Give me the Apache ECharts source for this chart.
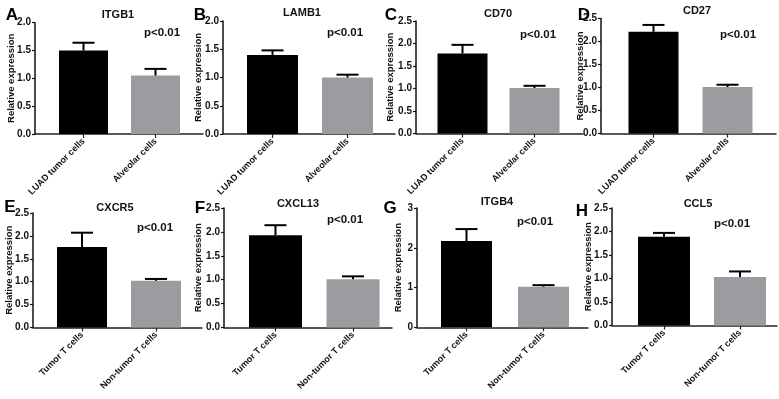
<!DOCTYPE html>
<html>
<head>
<meta charset="utf-8">
<script src="https://cdn.jsdelivr.net/npm/echarts@6/dist/echarts.min.js"></script>
<style>
  html, body { margin: 0; padding: 0; background: #fff; }
  #main { width: 779px; height: 399px; }
</style>
</head>
<body>
<div id="main"></div>
<script>
// data
const letters = ['A', 'B', 'C', 'D', 'E', 'F', 'G', 'H'];
const genes = ['ITGB1', 'LAMB1', 'CD70', 'CD27', 'CXCR5', 'CXCL13', 'ITGB4', 'CCL5'];
const groupsTop = ['LUAD tumor cells', 'Alveolar cells'];
const groupsBottom = ['Tumor T cells', 'Non-tumor T cells'];
const tumorMean = [1.50, 1.40, 1.78, 2.21, 1.76, 1.93, 2.17, 1.89];
const tumorSem = [0.14, 0.08, 0.19, 0.15, 0.31, 0.21, 0.30, 0.08];
const normalMean = [1.05, 1.00, 1.01, 1.01, 1.02, 1.01, 1.02, 1.03];
const normalSem = [0.12, 0.05, 0.05, 0.05, 0.04, 0.06, 0.04, 0.12];
const yMax = [2.0, 2.0, 2.5, 2.5, 2.5, 2.5, 3, 2.5];
const yStep = [0.5, 0.5, 0.5, 0.5, 0.5, 0.5, 1, 0.5];
const yName = 'Relative expression';
const pLabel = 'p<0.01';

// panel geometry (pixels)
const layout = [
  { left: 35, right: 203, top: 22.7, bottom: 134, c1: 83.5, c2: 155.5, bw: 49, t: [118, 15], p: [162, 33], l: [12, 15.5], n: 11 },
  { left: 223, right: 395, top: 21, bottom: 134, c1: 272.5, c2: 347.5, bw: 51, t: [302, 13], p: [345, 33], l: [200, 15.5], n: 198 },
  { left: 416, right: 583, top: 21, bottom: 133.5, c1: 462.5, c2: 534.5, bw: 50, t: [498, 14], p: [538, 35], l: [391, 15.5], n: 390 },
  { left: 601, right: 776, top: 18.5, bottom: 133.5, c1: 653.5, c2: 727.5, bw: 50, t: [697, 11], p: [738, 35], l: [584, 15.5], n: 580 },
  { left: 33, right: 202, top: 213, bottom: 327.5, c1: 82, c2: 156, bw: 50, t: [115, 208], p: [155, 228], l: [10, 207], n: 9 },
  { left: 224, right: 392, top: 208, bottom: 327.5, c1: 275.5, c2: 353, bw: 53, t: [298, 204], p: [345, 220], l: [200, 208], n: 198 },
  { left: 417, right: 588, top: 208, bottom: 327.3, c1: 466.5, c2: 543.5, bw: 51, t: [497, 202], p: [535, 222], l: [390, 208], n: 398 },
  { left: 612, right: 777, top: 208, bottom: 325.5, c1: 664, c2: 740, bw: 52, t: [698, 204], p: [732, 224], l: [582, 211], n: 588 }
];

const FONT = '"Liberation Sans", Arial, sans-serif';
const grids = [], xAxes = [], yAxes = [], series = [], texts = [];

layout.forEach(function (L, i) {
  const s = L.c2 - L.c1;
  const xmin = 1 - (L.c1 - L.left) / s;
  const xmax = 2 + (L.right - L.c2) / s;
  const groups = i < 4 ? groupsTop : groupsBottom;

  grids.push({ left: L.left, top: L.top, width: L.right - L.left, height: L.bottom - L.top });

  xAxes.push({
    gridIndex: i, type: 'value', min: xmin, max: xmax,
    splitLine: { show: false },
    axisLine: { lineStyle: { color: '#222', width: 1.5 } },
    axisTick: { customValues: [1, 2], length: 4, lineStyle: { color: '#222', width: 1.2 } },
    axisLabel: {
      customValues: [1, 2], rotate: 45, margin: 6,
      formatter: function (v) { return groups[Math.round(v) - 1]; },
      fontFamily: FONT, fontWeight: 'bold', fontSize: 9, color: '#111'
    }
  });

  yAxes.push({
    gridIndex: i, type: 'value', min: 0, max: yMax[i], interval: yStep[i],
    splitLine: { show: false },
    axisLine: { show: true, lineStyle: { color: '#111', width: 1.5 } },
    axisTick: { show: true, length: 3, lineStyle: { color: '#111', width: 1.2 } },
    axisLabel: {
      margin: 4,
      formatter: function (v) { return yStep[i] < 1 ? v.toFixed(1) : String(v); },
      fontFamily: FONT, fontWeight: 'bold', fontSize: 10, color: '#111'
    }
  });

  series.push({
    type: 'bar', xAxisIndex: i, yAxisIndex: i, barWidth: L.bw,
    data: [
      { value: [1, tumorMean[i]], itemStyle: { color: '#000' } },
      { value: [2, normalMean[i]], itemStyle: { color: '#9c9ca0' } }
    ]
  });

  series.push({
    type: 'custom', xAxisIndex: i, yAxisIndex: i, z: 5,
    data: [
      [1, tumorMean[i], tumorMean[i] + tumorSem[i]],
      [2, normalMean[i], normalMean[i] + normalSem[i]]
    ],
    renderItem: function (params, api) {
      const b = api.coord([api.value(0), api.value(1)]);
      const t = api.coord([api.value(0), api.value(2)]);
      const st = { stroke: '#000', lineWidth: 2 };
      return {
        type: 'group',
        children: [
          { type: 'line', shape: { x1: b[0], y1: b[1], x2: t[0], y2: t[1] }, style: st },
          { type: 'line', shape: { x1: t[0] - 11, y1: t[1], x2: t[0] + 11, y2: t[1] }, style: st }
        ]
      };
    }
  });

  texts.push({ type: 'text', x: L.n, y: (L.top + L.bottom) / 2, rotation: Math.PI / 2, style: { text: yName, textAlign: 'center', textVerticalAlign: 'middle', font: 'bold 9.5px ' + FONT, fill: '#111' } });
  texts.push({ type: 'text', x: L.t[0], y: L.t[1], style: { text: genes[i], textAlign: 'center', textVerticalAlign: 'middle', font: 'bold 11px ' + FONT, fill: '#111' } });
  texts.push({ type: 'text', x: L.p[0], y: L.p[1], style: { text: pLabel, textAlign: 'center', textVerticalAlign: 'middle', font: 'bold 11.5px ' + FONT, fill: '#111' } });
  texts.push({ type: 'text', x: L.l[0], y: L.l[1], style: { text: letters[i], textAlign: 'center', textVerticalAlign: 'middle', font: 'bold 17px ' + FONT, fill: '#000' } });
});

const myChart = echarts.init(document.getElementById('main'));
myChart.setOption({
  backgroundColor: '#fff',
  animation: false,
  grid: grids,
  xAxis: xAxes,
  yAxis: yAxes,
  series: series,
  graphic: texts
});
</script>
</body>
</html>
